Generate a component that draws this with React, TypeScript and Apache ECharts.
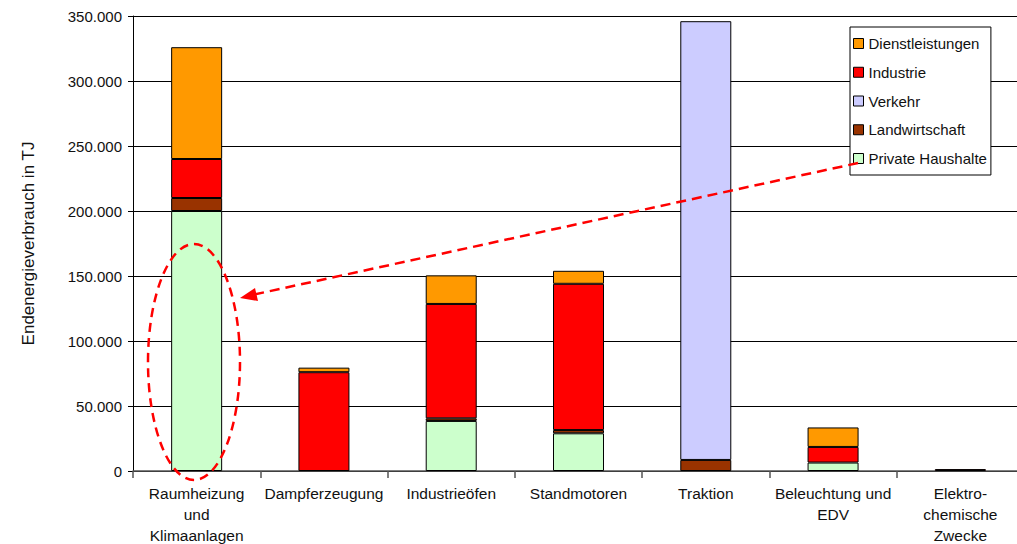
import React, { useEffect, useRef } from "react";
import * as echarts from "echarts";

// Endenergieverbrauch nach Anwendungszweck und Sektor (TJ)
const categories = [
  "Raumheizung\nund\nKlimaanlagen",
  "Dampferzeugung",
  "Industrieöfen",
  "Standmotoren",
  "Traktion",
  "Beleuchtung und\nEDV",
  "Elektro-\nchemische\nZwecke",
];

const privateHaushalte = [200000, 0, 38500, 29000, 0, 6500, 0];
const landwirtschaft = [10000, 0, 2000, 2500, 8500, 0, 0];
const verkehr = [0, 0, 0, 0, 337500, 0, 0];
const industrie = [30000, 76000, 88000, 112500, 0, 12000, 1500];
const dienstleistungen = [86000, 3500, 22000, 10000, 0, 15000, 0];

const yTicks = { min: 0, max: 350000, interval: 50000 };

const legendOrder = [
  "Dienstleistungen",
  "Industrie",
  "Verkehr",
  "Landwirtschaft",
  "Private Haushalte",
];

const FONT = "Liberation Sans, Arial, sans-serif";

function fmt(v: number): string {
  return String(v).replace(/\B(?=(\d{3})+(?!\d))/g, ".");
}

export default function App() {
  const ref = useRef<HTMLDivElement>(null);

  useEffect(() => {
    if (!ref.current) return;
    const chart = echarts.init(ref.current, undefined, { renderer: "svg" });

    // empty segments are left out so that they draw no border line
    const mk = (name: string, data: number[], color: string) => ({
      name,
      type: "bar",
      stack: "total",
      data: data.map((v) => (v === 0 ? "-" : v)),
      barWidth: 51,
      itemStyle: { color, borderColor: "#000", borderWidth: 1 },
    });

    chart.setOption({
      animation: false,
      backgroundColor: "#fff",
      textStyle: { fontFamily: FONT },
      grid: {
        left: 133,
        top: 16,
        width: 891,
        height: 455,
        containLabel: false,
        outerBoundsMode: "none",
      },
      legend: {
        orient: "vertical",
        left: 850,
        top: 27,
        data: legendOrder,
        itemWidth: 10,
        itemHeight: 10,
        itemGap: 11.75,
        icon: "rect",
        borderColor: "#000",
        borderWidth: 1,
        backgroundColor: "#fff",
        padding: [8, 4, 8, 3],
        itemStyle: { borderColor: "#000", borderWidth: 1 },
        textStyle: {
          fontFamily: FONT,
          fontSize: 15,
          lineHeight: 17,
          color: "#111",
        },
        z: 10,
      },
      xAxis: {
        type: "category",
        data: categories,
        axisLine: { lineStyle: { color: "#555", width: 1.5 } },
        axisTick: { show: true, length: 7, lineStyle: { color: "#555", width: 1.5 } },
        axisLabel: {
          interval: 0,
          color: "#111",
          fontFamily: FONT,
          fontSize: 15.5,
          lineHeight: 21,
          margin: 12,
        },
      },
      yAxis: {
        type: "value",
        min: yTicks.min,
        max: yTicks.max,
        interval: yTicks.interval,
        name: "Endenergieverbrauch in TJ",
        nameLocation: "middle",
        nameGap: 96,
        nameTextStyle: { fontFamily: FONT, fontSize: 17, color: "#111" },
        axisLine: { show: true, lineStyle: { color: "#000", width: 1 } },
        axisTick: { show: true, length: 5, lineStyle: { color: "#000" } },
        axisLabel: {
          color: "#111",
          fontFamily: FONT,
          fontSize: 15,
          margin: 11,
          formatter: (v: number) => fmt(v),
        },
        splitLine: { lineStyle: { color: "#000", width: 1 } },
      },
      series: [
        mk("Private Haushalte", privateHaushalte, "#CCFFCC"),
        mk("Landwirtschaft", landwirtschaft, "#993300"),
        mk("Verkehr", verkehr, "#CCCCFF"),
        mk("Industrie", industrie, "#FF0000"),
        mk("Dienstleistungen", dienstleistungen, "#FF9900"),
      ],
      graphic: [
        {
          type: "ellipse",
          shape: { cx: 194, cy: 362, rx: 46, ry: 118 },
          style: { fill: "none", stroke: "#FF0000", lineWidth: 2.5, lineDash: [9, 6] },
          z: 20,
        },
        {
          type: "line",
          shape: { x1: 858, y1: 163, x2: 252, y2: 295 },
          style: { stroke: "#FF0000", lineWidth: 2.5, lineDash: [10, 6] },
          z: 20,
        },
        {
          type: "polygon",
          shape: { points: [[240, 298], [255, 288], [258, 301]] },
          style: { fill: "#FF0000" },
          z: 20,
        },
      ],
    });

    return () => chart.dispose();
  }, []);

  return (
    <div
      ref={ref}
      style={{ position: "fixed", left: 0, top: 0, width: 1017, height: 544 }}
    />
  );
}
